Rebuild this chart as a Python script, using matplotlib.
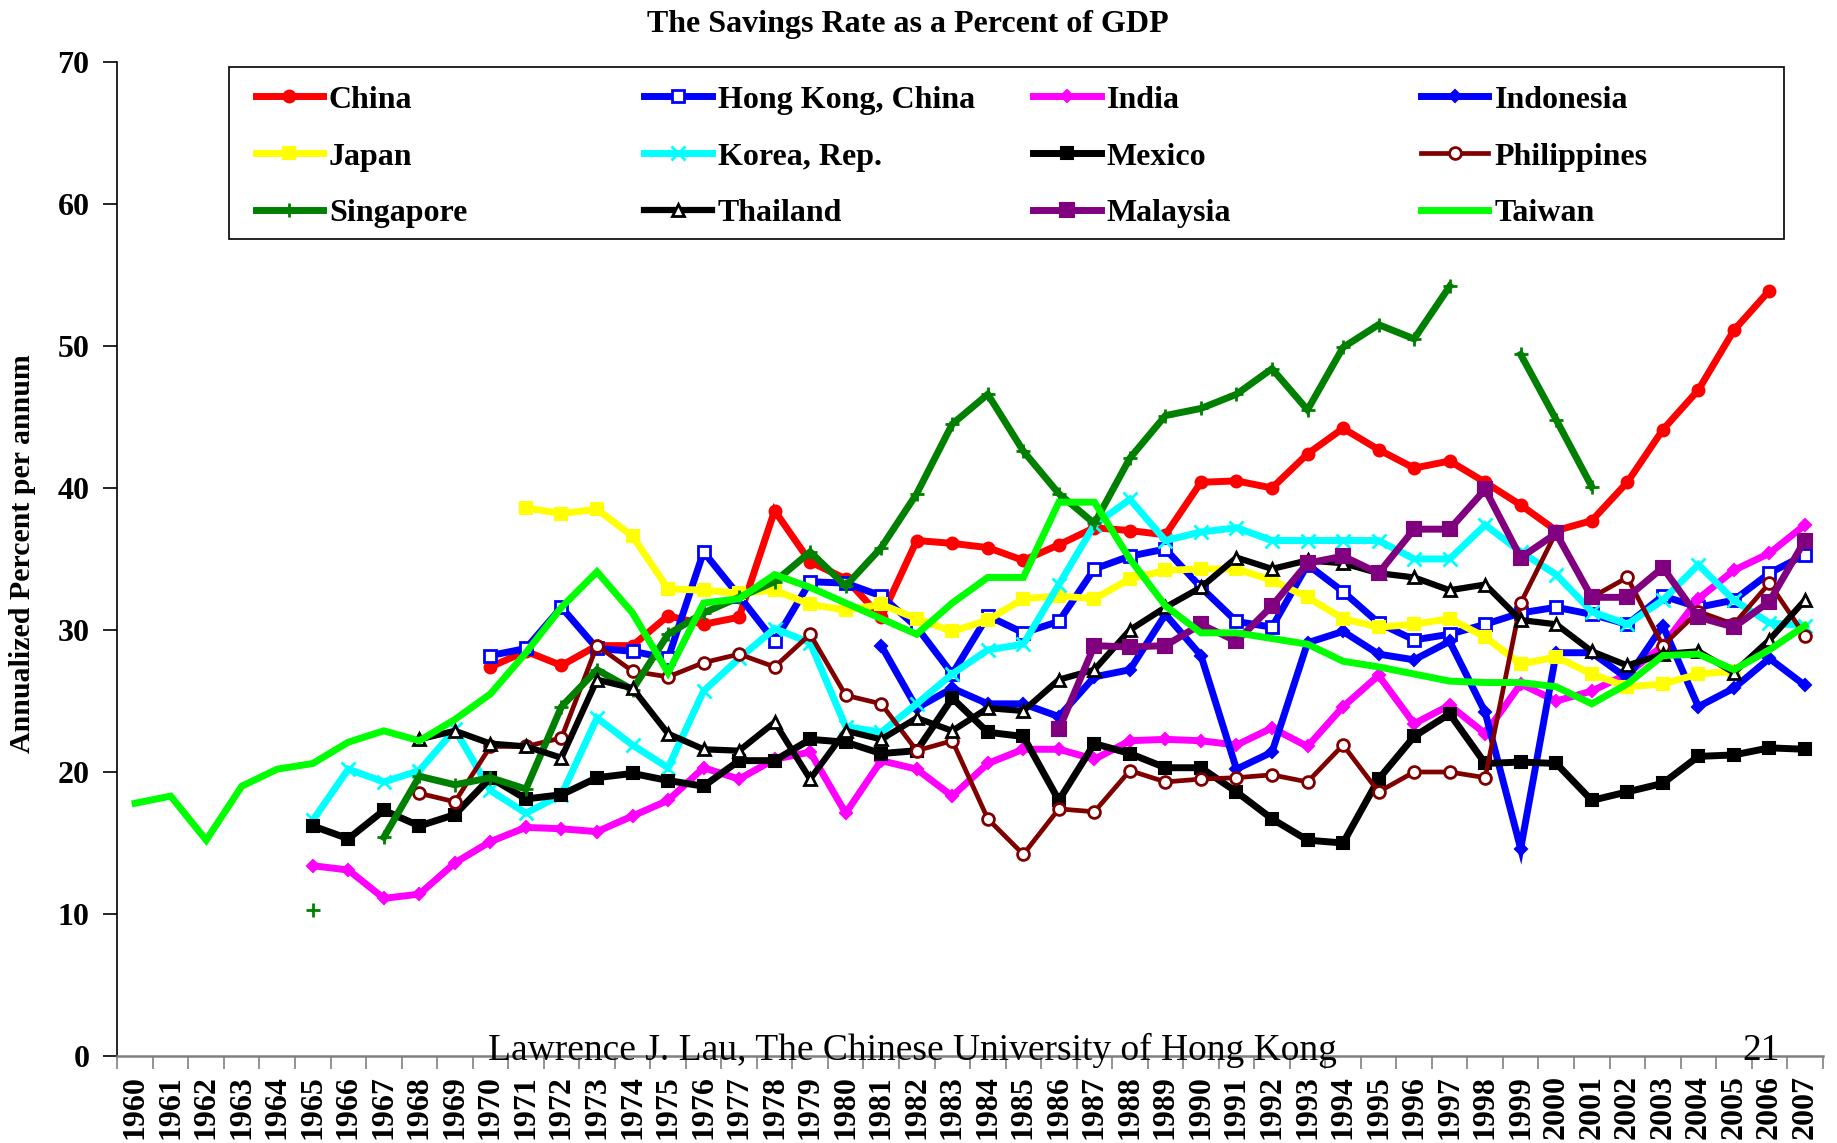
import numpy as np
import matplotlib
matplotlib.use("Agg")
import matplotlib.pyplot as plt
from matplotlib.legend import Legend
from matplotlib.patches import Rectangle

plt.rcParams['font.family'] = ['Liberation Serif', 'DejaVu Serif']

years = list(range(1960, 2008))
nan = np.nan

# savings rates, each list starts at the year given next to it
china_start = 1970
china = [27.4, 28.5, 27.5, 28.9, 28.9, 31.0, 30.4, 30.9, 38.4, 34.8, 33.6, 30.9, 36.3, 36.1, 35.8,
         34.9, 36.0, 37.2, 37.0, 36.7, 40.4, 40.5, 40.0, 42.4, 44.2, 42.7, 41.4, 41.9, 40.4, 38.8,
         37.0, 37.7, 40.4, 44.1, 46.9, 51.1, 53.9]
hongkong_start = 1970
hongkong = [28.2, 28.7, 31.6, 28.7, 28.5, 28.0, 35.5, 32.4, 29.2, 33.4, 33.3, 32.4, 30.2, 26.9, 31.0,
            29.8, 30.6, 34.3, 35.2, 35.7, 33.0, 30.6, 30.2, 34.6, 32.7, 30.5, 29.3, 29.7, 30.4, 31.2,
            31.6, 31.1, 30.4, 32.4, 31.6, 32.1, 34.0, 35.3]
india_start = 1965
india = [13.4, 13.1, 11.1, 11.4, 13.6, 15.1, 16.1, 16.0, 15.8, 16.9, 18.0, 20.3, 19.5, 20.9, 21.4,
         17.1, 20.8, 20.2, 18.3, 20.6, 21.6, 21.6, 20.9, 22.2, 22.3, 22.2, 21.9, 23.1, 21.8, 24.6,
         26.8, 23.4, 24.7, 22.7, 26.2, 25.0, 25.7, 26.9, 28.9, 32.2, 34.2, 35.4, 37.4]
indonesia_start = 1981
indonesia = [28.9, 24.5, 25.9, 24.8, 24.8, 23.9, 26.7, 27.2, 31.1, 28.2, 20.2, 21.4, 29.1, 29.9,
             28.3, 27.9, 29.2, 24.2, 14.6, 28.4, 28.4, 26.6, 30.3, 24.6, 25.9, 28.0, 26.1]
japan_start = 1971
japan = [38.6, 38.2, 38.5, 36.6, 32.9, 32.8, 32.6, 32.8, 31.8, 31.4, 31.8, 30.8, 29.9, 30.7, 32.2,
         32.4, 32.2, 33.6, 34.2, 34.3, 34.3, 33.5, 32.3, 30.8, 30.2, 30.4, 30.8, 29.5, 27.6, 28.1,
         26.9, 26.0, 26.2, 26.9, 27.1]
korea_start = 1965
korea = [16.6, 20.2, 19.3, 20.1, 23.0, 18.7, 17.1, 18.4, 23.8, 21.9, 20.3, 25.7, 28.0, 30.1, 29.1,
         23.2, 22.8, 24.8, 26.9, 28.6, 29.0, 33.2, 37.4, 39.2, 36.3, 36.9, 37.2, 36.3, 36.3, 36.3,
         36.3, 35.0, 35.0, 37.4, 35.5, 33.9, 31.3, 30.4, 32.1, 34.6, 32.1, 30.5, 30.3]
mexico_start = 1965
mexico = [16.2, 15.3, 17.3, 16.2, 17.0, 19.6, 18.1, 18.4, 19.6, 19.9, 19.4, 19.0, 20.8, 20.8, 22.3,
          22.1, 21.3, 21.5, 25.2, 22.8, 22.5, 18.0, 22.0, 21.3, 20.3, 20.3, 18.6, 16.7, 15.2, 15.0,
          19.5, 22.5, 24.1, 20.6, 20.7, 20.6, 18.0, 18.6, 19.2, 21.1, 21.2, 21.7, 21.6]
philippines_start = 1968
philippines = [18.5, 17.9, 21.8, 21.8, 22.4, 28.9, 27.1, 26.7, 27.7, 28.3, 27.4, 29.7, 25.4, 24.8,
               21.5, 22.2, 16.7, 14.2, 17.4, 17.2, 20.1, 19.3, 19.5, 19.6, 19.8, 19.3, 21.9, 18.6,
               20.0, 20.0, 19.6, 31.9, 36.9, 32.3, 33.7, 28.9, 31.3, 30.4, 33.3, 29.6]
singapore_start = 1965
singapore = [10.3, nan, 15.4, 19.7, 19.1, 19.6, 18.8, 24.6, 27.2, 25.8, 29.7, 31.2, 32.3, 33.4, 35.5,
             33.1, 35.8, 39.6, 44.5, 46.6, 42.6, 39.6, 37.5, 42.1, 45.1, 45.6, 46.6, 48.4, 45.5,
             49.9, 51.5, 50.5, 54.2, nan, 49.4, 44.8, 40.1]
thailand_start = 1968
thailand = [22.3, 22.9, 22.0, 21.8, 21.0, 26.5, 25.9, 22.7, 21.6, 21.5, 23.5, 19.5, 22.9, 22.3, 23.8,
            22.9, 24.5, 24.3, 26.5, 27.2, 30.0, 31.6, 33.0, 35.1, 34.3, 34.9, 34.7, 34.0, 33.7, 32.8,
            33.2, 30.7, 30.4, 28.5, 27.5, 28.3, 28.5, 27.0, 29.3, 32.1]
malaysia_start = 1986
malaysia = [23.0, 28.9, 28.8, 28.9, 30.4, 29.2, 31.7, 34.7, 35.2, 34.0, 37.1, 37.1, 39.9, 35.1, 36.8,
            32.3, 32.3, 34.4, 30.9, 30.2, 32.0, 36.3]
taiwan_start = 1960
taiwan = [17.8, 18.3, 15.2, 19.0, 20.2, 20.6, 22.1, 22.9, 22.2, 23.7, 25.5, 28.4, 31.6, 34.1, 31.2,
          27.0, 31.9, 32.2, 33.9, 33.0, 31.9, 30.8, 29.7, 31.9, 33.7, 33.7, 39.0, 39.0, 35.0, 31.7,
          29.8, 29.8, 29.4, 29.0, 27.8, 27.4, 26.9, 26.4, 26.3, 26.3, 26.0, 24.8, 26.2, 28.2, 28.3,
          27.2, 28.6, 30.3]


def full_series(start, vals):
    out = [nan] * (start - years[0]) + list(vals)
    out += [nan] * (len(years) - len(out))
    return np.array(out, dtype=float)


x = np.arange(len(years))

fig = plt.figure(figsize=(18.37, 11.43), dpi=100)
ax = fig.add_axes([0.0639, 0.0761, 0.9283, 0.8697])

# name, data, start, color, marker, markersize, face, edge, linewidth
series = [
    ("China", china, china_start, "#ff0000", "o", 8.5, "#ff0000", "#ff0000", 5),
    ("Hong Kong, China", hongkong, hongkong_start, "#0000ff", "s", 8, "white", "#0000ff", 5),
    ("India", india, india_start, "#ff00ff", "D", 6, "#ff00ff", "#ff00ff", 5),
    ("Indonesia", indonesia, indonesia_start, "#0000ff", "D", 6, "#0000ff", "#0000ff", 5),
    ("Japan", japan, japan_start, "#ffff00", "s", 9, "#ffff00", "#ffff00", 5),
    ("Korea, Rep.", korea, korea_start, "#00ffff", "x", 9.5, "#00ffff", "#00ffff", 5),
    ("Mexico", mexico, mexico_start, "#000000", "s", 8.5, "#000000", "#000000", 5),
    ("Philippines", philippines, philippines_start, "#800000", "o", 8.5, "white", "#800000", 3.4),
    ("Singapore", singapore, singapore_start, "#008000", "+", 10.5, "#008000", "#008000", 5),
    ("Thailand", thailand, thailand_start, "#000000", "^", 9, "white", "#000000", 4.5),
    ("Malaysia", malaysia, malaysia_start, "#800080", "s", 10, "#800080", "#800080", 5),
    ("Taiwan", taiwan, taiwan_start, "#00ff00", "None", 0, "#00ff00", "#00ff00", 5),
]

handles = {}
for name, vals, start, color, marker, ms, face, edge, lw in series:
    y = full_series(start, vals)
    mew = 2.0 if face == "white" or marker in ("x", "+") else 1.5
    line, = ax.plot(x, y, color=color, lw=lw, marker=marker, ms=ms,
                    markerfacecolor=face, markeredgecolor=edge, markeredgewidth=mew,
                    solid_joinstyle="miter", label=name)
    handles[name] = line

ax.set_xlim(-0.5, len(years) - 0.5)
ax.set_ylim(0, 70)
ax.set_yticks(range(0, 71, 10))
ax.set_xticks(x)
ax.set_xticklabels([str(yr) for yr in years], rotation=90, fontsize=23, fontweight="bold")
ax.set_xticks(np.arange(-0.5, len(years)), minor=True)
ax.tick_params(axis="x", which="major", length=0, pad=14)
ax.tick_params(axis="x", which="minor", length=9, width=1.2, color="#808080", direction="out")
ax.tick_params(axis="y", length=10, width=1.2, direction="out", labelsize=23, pad=10)
for lab in ax.get_yticklabels():
    lab.set_fontweight("bold")

ax.spines["top"].set_visible(False)
ax.spines["right"].set_visible(False)
ax.spines["left"].set_linewidth(1.2)
ax.spines["bottom"].set_color("#808080")
ax.spines["bottom"].set_linewidth(1.8)

# legend box with four evenly spaced columns
frame = Rectangle((0.0652, 0.822), 0.9123, 0.1732, transform=ax.transAxes,
                  facecolor="white", edgecolor="black", lw=1.2, zorder=4)
ax.add_patch(frame)
row_order = ["China", "Hong Kong, China", "India", "Indonesia",
             "Japan", "Korea, Rep.", "Mexico", "Philippines",
             "Singapore", "Thailand", "Malaysia", "Taiwan"]
col_x = [0.081, 0.3091, 0.5372, 0.7646]
for c, cx in enumerate(col_x):
    names = row_order[c::4]
    lg = Legend(ax, [handles[n] for n in names], names, loc="upper left",
                bbox_to_anchor=(cx, 0.9765), bbox_transform=ax.transAxes,
                borderaxespad=0, borderpad=0, frameon=False, handlelength=2.1,
                handletextpad=0.2, labelspacing=0.86,
                prop={"weight": "bold", "size": 23})
    lg.set_zorder(5)
    ax.add_artist(lg)

fig.text(0.494, 0.979, "The Savings Rate as a Percent of GDP", ha="center", va="center",
         fontsize=23, fontweight="bold")
fig.text(0.0125, 0.516, "Annualized Percent per annum", rotation=90, ha="center", va="center",
         fontsize=21.5, fontweight="bold")
fig.text(0.4965, 0.073, "Lawrence J. Lau, The Chinese University of Hong Kong", ha="center",
         va="baseline", fontsize=27)
fig.text(0.9586, 0.073, "21", ha="center", va="baseline", fontsize=27)

fig.savefig("out.png", dpi=100)
